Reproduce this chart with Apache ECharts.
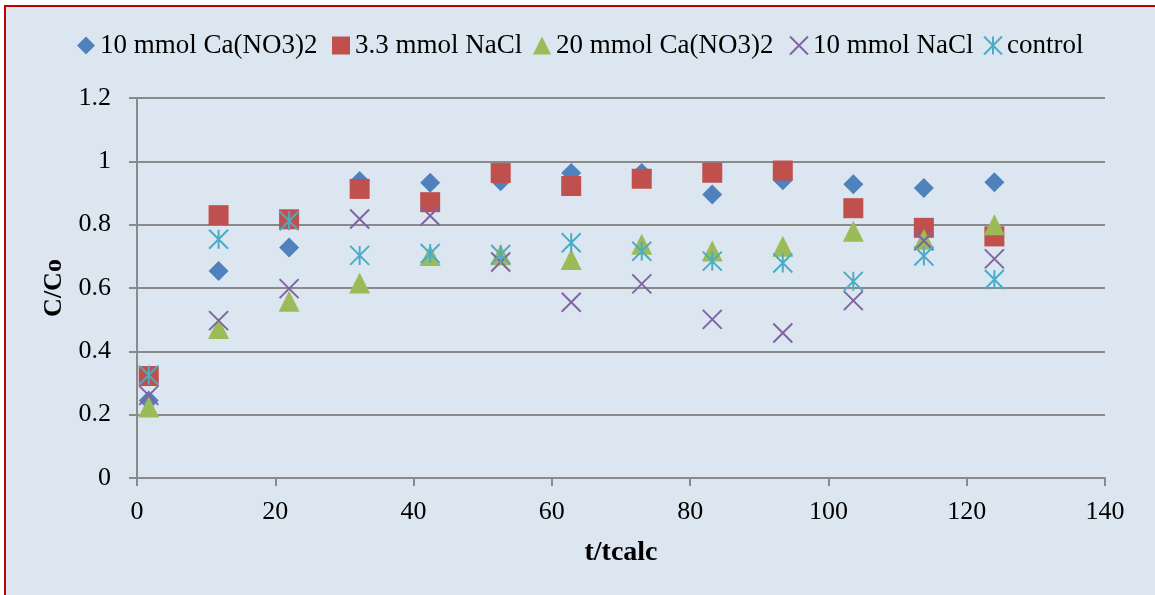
<!DOCTYPE html>
<html>
<head>
<meta charset="utf-8">
<script src="https://cdn.jsdelivr.net/npm/echarts@6/dist/echarts.min.js"></script>
<style>
  html, body { margin: 0; padding: 0; background: #ffffff; overflow: hidden; }
  #frame {
    position: absolute; left: 4px; top: 5px; width: 1170px; height: 610px;
    border-left: 2px solid #c00000; border-top: 2px solid #c00000;
    background: #dce6f1;
  }
  #chart { position: absolute; left: 0; top: 0; width: 1155px; height: 595px; }
</style>
</head>
<body>
<div id="frame"></div>
<div id="chart"></div>
<script>
// Sampling times (t/tcalc) and normalised concentrations C/Co per solution
const tValues = [1.7, 11.8, 22.0, 32.2, 42.4, 52.6, 62.8, 73.0, 83.2, 93.4, 103.6, 113.8, 124.0];
const ca10 = [0.245, 0.654, 0.728, 0.938, 0.932, 0.937, 0.963, 0.963, 0.895, 0.940, 0.928, 0.916, 0.934];
const nacl33 = [0.322, 0.830, 0.817, 0.913, 0.871, 0.963, 0.922, 0.945, 0.964, 0.971, 0.852, 0.790, 0.763];
const ca20 = [0.224, 0.472, 0.558, 0.616, 0.703, 0.705, 0.690, 0.738, 0.717, 0.732, 0.779, 0.754, 0.800];
const nacl10 = [0.261, 0.497, 0.598, 0.818, 0.828, 0.682, 0.555, 0.613, 0.501, 0.458, 0.560, 0.749, 0.692];
const control = [0.325, 0.754, 0.812, 0.703, 0.709, 0.706, 0.743, 0.716, 0.685, 0.679, 0.621, 0.701, 0.627];

const seriesNames = ['10 mmol Ca(NO3)2', '3.3 mmol NaCl', '20 mmol Ca(NO3)2', '10 mmol NaCl', 'control'];
const xTicks = [0, 20, 40, 60, 80, 100, 120, 140];
const yTicks = ['0', '0.2', '0.4', '0.6', '0.8', '1', '1.2'];

const FONT = 'Liberation Serif';
const GRID_GRAY = '#8a8a8a';
const CROSS = 'path://M0,0L10,10M10,0L0,10';
const STAR = 'path://M0,0L10,10M10,0L0,10M5,0L5,10';

const pairs = (ys) => tValues.map((t, i) => [t, ys[i]]);

const styles = [
  { data: ca10, symbol: 'diamond', size: 20, color: '#4f81bd', stroke: false },
  { data: nacl33, symbol: 'rect', size: 20, color: '#c0504d', stroke: false },
  { data: ca20, symbol: 'triangle', size: 21, color: '#9bbb59', stroke: false },
  { data: nacl10, symbol: CROSS, size: 19, color: '#8064a2', stroke: true },
  { data: control, symbol: STAR, size: 19, color: '#4bacc6', stroke: true }
];

const legendLeft = [77, 332, 533, 789, 983];

const chart = echarts.init(document.getElementById('chart'), null, { renderer: 'canvas' });

chart.setOption({
  backgroundColor: 'transparent',
  animation: false,
  textStyle: { fontFamily: FONT, color: '#000' },
  legend: seriesNames.map((name, i) => ({
    data: [name],
    left: legendLeft[i],
    top: 32,
    padding: 0,
    itemWidth: 18,
    itemHeight: 18,
    itemGap: 0,
    selectedMode: false,
    textStyle: { fontFamily: FONT, fontSize: 27, color: '#000' }
  })),
  grid: {
    left: 137, top: 98, width: 968, height: 380,
    containLabel: false, outerBoundsMode: 'none'
  },
  xAxis: {
    type: 'value',
    min: xTicks[0], max: xTicks[xTicks.length - 1], interval: xTicks[1] - xTicks[0],
    name: 't/tcalc', nameLocation: 'middle', nameGap: 61,
    nameTextStyle: { fontFamily: FONT, fontSize: 28, fontWeight: 'bold', color: '#000' },
    axisLine: { show: true, lineStyle: { color: GRID_GRAY, width: 2 } },
    axisTick: { show: true, length: 8, lineStyle: { color: GRID_GRAY, width: 2 } },
    axisLabel: { fontFamily: FONT, fontSize: 26, color: '#000', margin: 21 },
    splitLine: { show: false }
  },
  yAxis: {
    type: 'value',
    min: 0, max: 1.2, interval: 0.2,
    name: 'C/Co', nameLocation: 'middle', nameGap: 67, nameRotate: 90,
    nameTextStyle: { fontFamily: FONT, fontSize: 26, fontWeight: 'bold', color: '#000' },
    axisLine: { show: true, lineStyle: { color: GRID_GRAY, width: 2 } },
    axisTick: { show: true, length: 8, lineStyle: { color: GRID_GRAY, width: 2 } },
    axisLabel: {
      fontFamily: FONT, fontSize: 26, color: '#000', margin: 26,
      formatter: (v) => yTicks[Math.round(v / 0.2)]
    },
    splitLine: { show: true, lineStyle: { color: GRID_GRAY, width: 2 } }
  },
  series: styles.map((s, i) => ({
    type: 'scatter',
    name: seriesNames[i],
    data: pairs(s.data),
    symbol: s.symbol,
    symbolSize: s.size,
    itemStyle: s.stroke
      ? { color: s.color, borderColor: s.color, borderWidth: 2, opacity: 1 }
      : { color: s.color, borderWidth: 0, opacity: 1 }
  }))
});
</script>
</body>
</html>
